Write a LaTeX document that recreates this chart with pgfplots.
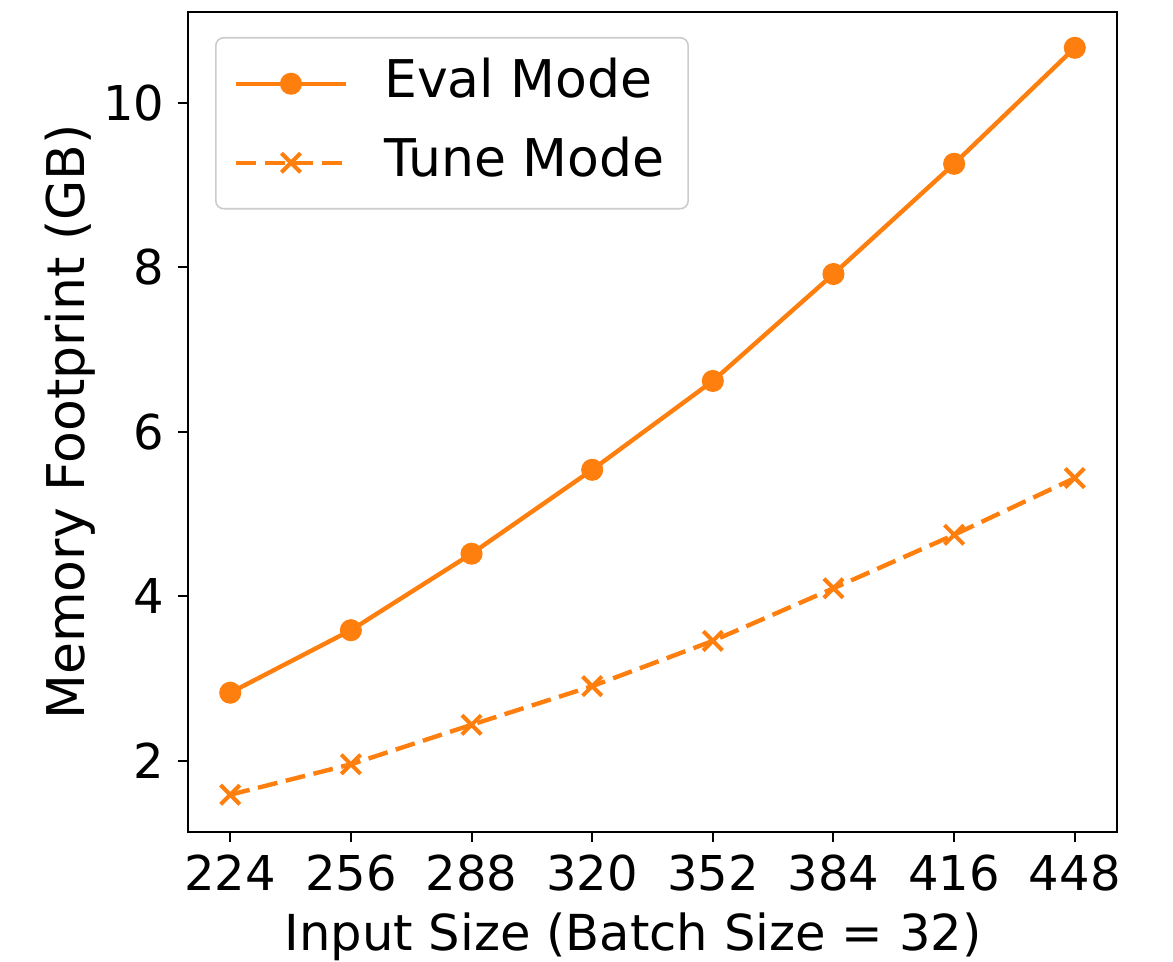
\documentclass[border=0pt]{standalone}
\usepackage{fontspec}
\setmainfont{DejaVu Sans}
\usepackage{pgfplots}
\pgfplotsset{compat=1.18}
\definecolor{taborange}{HTML}{FF7F0E}
\newcommand{\fs}{\fontsize{12bp}{14bp}\selectfont}
\newcommand{\fl}{\fontsize{13bp}{15bp}\selectfont}
\newcommand{\fx}{\fontsize{12.4bp}{15bp}\selectfont}
\begin{document}
\begin{tikzpicture}
\begin{axis}[
  at={(0,0)}, anchor=south west,
  scale only axis, width=232.25bp, height=205bp,
  xmin=212.8, xmax=459.2, ymin=1.137, ymax=11.106,
  xtick={224,256,288,320,352,384,416,448},
  ytick={2,4,6,8,10},
  tick align=outside, tick pos=left,
  major tick length=2.5bp,
  tick style={black, line width=0.5bp},
  axis line style={line width=0.55bp},
  /pgf/number format/assume math mode=true,
  tick label style={font=\fs},
  xticklabel style={anchor=base, inner sep=0pt, yshift=-12bp},
  yticklabel style={anchor=east, inner sep=0pt, xshift=-3.25bp},
  xlabel={Input Size (Batch Size = 32)},
  ylabel={Memory Footprint (GB)},
  xlabel style={font=\fx, at={(axis description cs:0.479,-0.1439)}, anchor=base, inner sep=0pt},
  ylabel style={font=\fl, at={(axis description cs:-0.111,0.5)}, anchor=base, inner sep=0pt},
  legend cell align=left,
  legend style={font=\fl, at={(axis description cs:0,1)}, anchor=north west,
    xshift=6.75bp, yshift=-6.25bp, draw=black!20, rounded corners=2bp,
    inner xsep=4.5bp, inner ysep=5bp, row sep=6.75bp, column sep=9bp,
    nodes={inner sep=0pt, text height=10bp, text depth=3bp}},
  legend image code/.code={%
    \draw[mark repeat=2,mark phase=2,#1] plot coordinates {(0bp,0bp) (13.75bp,0bp) (27.5bp,0bp)};
    \path[draw=none, fill=none] (0bp,-4.2bp) -- (0bp,2.2bp);},
]
\addplot[taborange, line width=1.1bp, mark=*, mark size=2.2bp, mark options={solid}]
  coordinates {(224,2.83) (256,3.59) (288,4.52) (320,5.54) (352,6.62) (384,7.92) (416,9.26) (448,10.67)};
\addlegendentry{Eval Mode}
\addplot[taborange, line width=1.1bp, dash pattern=on 5bp off 2.15bp, mark=x, mark size=3.4bp, mark options={solid, line width=1bp}]
  coordinates {(224,1.59) (256,1.96) (288,2.44) (320,2.91) (352,3.46) (384,4.10) (416,4.75) (448,5.44)};
\addlegendentry{Tune Mode\hspace*{1.5bp}}
\end{axis}
\pgfresetboundingbox
\path (-47bp,-32.5bp) rectangle (246.25bp,208bp);
\end{tikzpicture}
\end{document}
